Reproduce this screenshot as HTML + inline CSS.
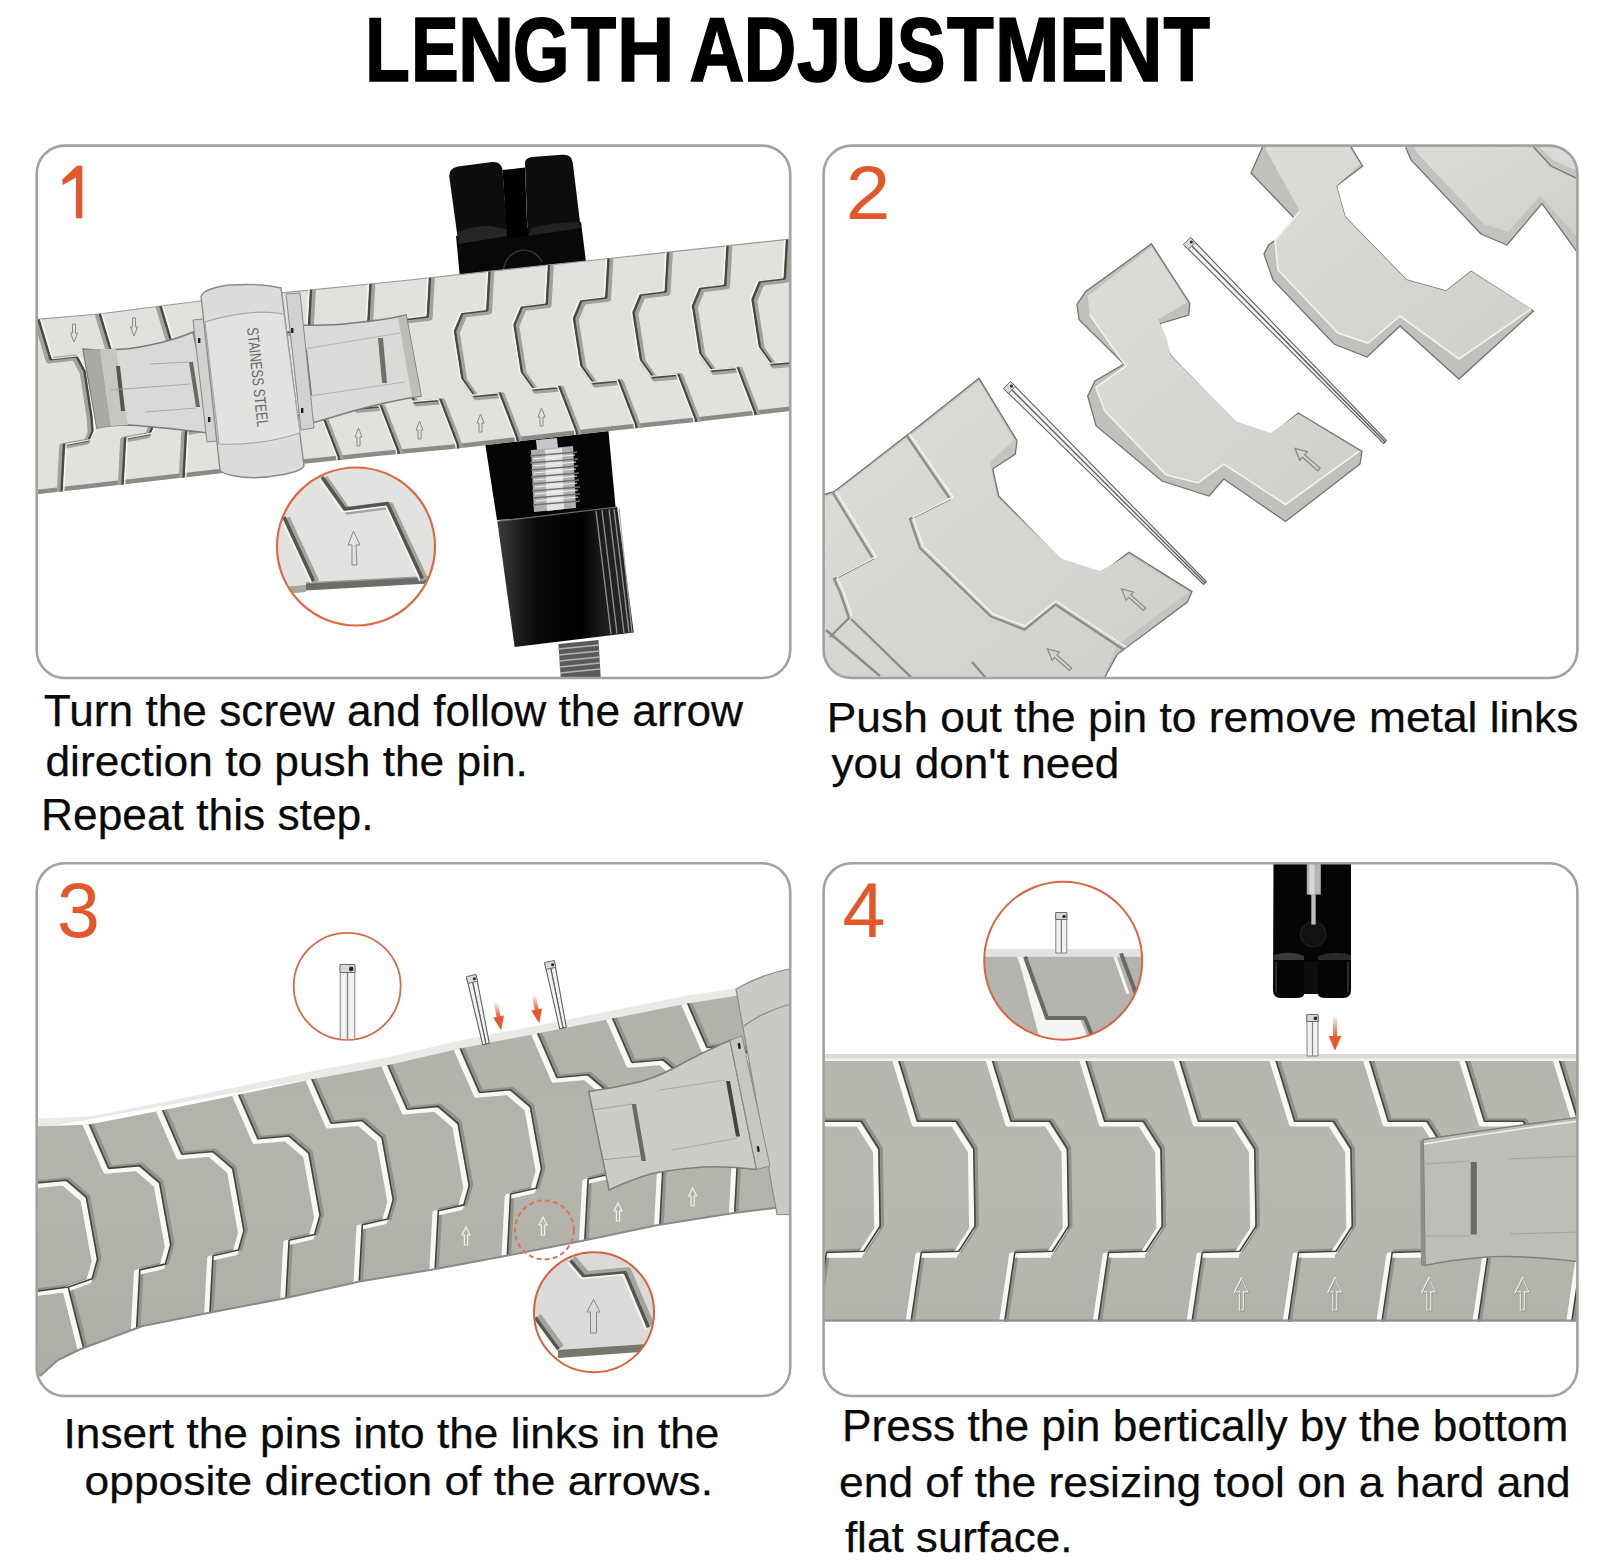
<!DOCTYPE html>
<html><head><meta charset="utf-8">
<style>
html,body{margin:0;padding:0;background:#fff;}
body{width:1598px;height:1562px;overflow:hidden;position:relative;}
svg{position:absolute;left:0;top:0;}
text{font-family:"Liberation Sans",sans-serif;}
</style></head><body>
<svg width="1598" height="1562" viewBox="0 0 1598 1562">
<defs>
<clipPath id="c1"><rect x="37" y="146" width="753" height="532" rx="28"/></clipPath>
<clipPath id="c2"><rect x="824" y="146" width="753" height="532" rx="28"/></clipPath>
<clipPath id="c3"><rect x="37" y="864" width="753" height="532" rx="28"/></clipPath>
<clipPath id="c4"><rect x="824" y="864" width="753" height="532" rx="28"/></clipPath>
</defs>
<!-- title -->
<g font-size="91" font-weight="bold" fill="#000" stroke="#000" stroke-width="1.6"><text y="80.8" lengthAdjust="spacingAndGlyphs" x="365.1" textLength="44.9">L</text><text y="80.8" lengthAdjust="spacingAndGlyphs" x="411.0" textLength="47.8">E</text><text y="80.8" lengthAdjust="spacingAndGlyphs" x="457.9" textLength="56.2">N</text><text y="80.8" lengthAdjust="spacingAndGlyphs" x="512.8" textLength="56.8">G</text><text y="80.8" lengthAdjust="spacingAndGlyphs" x="571.0" textLength="45.1">T</text><text y="80.8" lengthAdjust="spacingAndGlyphs" x="617.0" textLength="57.4">H</text><text y="80.8" lengthAdjust="spacingAndGlyphs" x="689.4" textLength="54.8">A</text><text y="80.8" lengthAdjust="spacingAndGlyphs" x="743.7" textLength="52.5">D</text><text y="80.8" lengthAdjust="spacingAndGlyphs" x="797.0" textLength="44.4">J</text><text y="80.8" lengthAdjust="spacingAndGlyphs" x="840.8" textLength="55.6">U</text><text y="80.8" lengthAdjust="spacingAndGlyphs" x="896.7" textLength="48.8">S</text><text y="80.8" lengthAdjust="spacingAndGlyphs" x="947.1" textLength="46.8">T</text><text y="80.8" lengthAdjust="spacingAndGlyphs" x="995.1" textLength="64.4">M</text><text y="80.8" lengthAdjust="spacingAndGlyphs" x="1059.5" textLength="47.7">E</text><text y="80.8" lengthAdjust="spacingAndGlyphs" x="1105.8" textLength="56.8">N</text><text y="80.8" lengthAdjust="spacingAndGlyphs" x="1163.5" textLength="46.5">T</text></g>

<!-- PANEL1 -->
<!--P1S--><g id="p1" clip-path="url(#c1)">
 <!-- tool top (behind band) -->
 <path d="M456,236 L581,222 L586,262 L590,300 L462,300 Z" fill="#080808"/>
 <path d="M449.2,176 Q449,168 458,166.5 L492,162 Q501,161 502.5,170 L507,230 L458.4,243 Z" fill="#0e0e0e"/>
 <path d="M525,163 Q525,158 532,157 L562,154.7 Q572,154 572.8,163 L580.6,227 L527.5,233 Z" fill="#0e0e0e"/>
 <path d="M502.5,170 L525,167.5 L527.5,236 L507,238 Z" fill="#000"/>
 <path d="M458,232 Q470,226 490,226 L506,229 L507,236 L459,244 Z" fill="#262626"/>
 <path d="M531,228 Q555,222 578,222 L581,228 L528,236 Z" fill="#222"/>
 <path d="M503,274 Q504,254 522,250 Q536,250 542,262" fill="none" stroke="#333" stroke-width="1.6"/>
 <!-- tool bottom -->
 <path d="M484,436 L608,426 L616,512 L497,520 Z" fill="#050505"/>
 <defs>
  <linearGradient id="kn" x1="0" y1="0" x2="1" y2="0">
   <stop offset="0" stop-color="#3c3c3c"/><stop offset="0.28" stop-color="#0a0a0a"/><stop offset="0.62" stop-color="#000"/><stop offset="0.75" stop-color="#1a1a1a"/><stop offset="1" stop-color="#2c2c2c"/>
  </linearGradient>
 </defs>
 <path d="M497.3,521.3 L617.1,507 L633.8,632.5 L514.6,647 Z" fill="url(#kn)"/>
 <path d="M497.3,521.3 L617.1,507" stroke="#6a6a6a" stroke-width="1.2"/>
 <g stroke="#a8a8a8" stroke-width="1.3" fill="none" opacity="0.85">
  <path d="M596,511 L611,634"/><path d="M602,510 L617,633.5"/><path d="M609,509.5 L624,633"/><path d="M614,509 L629,632.5"/><path d="M619,508.5 L632,632.5"/>
 </g>
 <!-- screw top -->
 <path d="M536,440 L557,438 L558,448 L537,450 Z" fill="#c8c8c8"/>
 <path d="M531,450 L573,446 L576,508 L534,512 Z" fill="#b0b0b0"/>
 <path d="M545,450 L562,448 L564,509 L547,511 Z" fill="#e4e4e4"/>
 <g stroke="#707070" stroke-width="1.5">
  <path d="M530,456 L577,452"/><path d="M530,463 L578,459"/><path d="M531,470 L578,466"/><path d="M531,477 L579,473"/><path d="M532,484 L579,480"/><path d="M532,491 L580,487"/><path d="M533,498 L580,494"/><path d="M533,505 L580,501"/>
 </g>
 <g stroke="#f0f0f0" stroke-width="1.2">
  <path d="M533,459 L575,455"/><path d="M533,466 L576,462"/><path d="M534,473 L576,469"/><path d="M534,480 L577,476"/><path d="M535,487 L577,483"/><path d="M535,494 L578,490"/><path d="M536,501 L578,497"/>
 </g>
 <!-- screw bottom -->
 <path d="M558.4,644 L598.5,640 L601,682 L561,682 Z" fill="#5a5a5a"/>
 <g stroke="#b4b4b4" stroke-width="1.4">
  <path d="M558,649 L599,645"/><path d="M558.5,655 L599.5,651"/><path d="M559,661 L600,657"/><path d="M559.5,667 L600,663"/><path d="M560,673 L600.5,669"/>
 </g>

 <!-- band base -->
 <defs>
  <path id="b1" d="M30,320 L99,314 L161,306 L200,301 L400,281 L609,258.5 L795,238.6 L795,410.5 L695,421.9 L600,431.9 L455,448.7 L380,455.8 L306,463.5 L30,495 Z"/>
  <clipPath id="b1c"><use href="#b1"/></clipPath>
  <path id="cb" d="M0,-6 L0,0 L-2.2,39 L-27,42 L-34.5,60 L-27,108 L-15,124.7 L10.6,122.4 L27.8,167 L29,176"/>
  <path id="lb" d="M-1,-6 L0,0 L12,40 L38,37 L46,52 L53,98 L54,112 L50,121 L25.5,125.6 L23,172 L23,180"/>
 </defs>
 <use href="#b1" fill="#e1e1de"/>
 <path d="M30,495 L306,463.5 L380,455.8 L455,448.7 L600,431.9 L695,421.9 L795,410.5 L795,406 L695,417.4 L600,427.4 L455,444.2 L380,451.3 L306,459 L30,490.5 Z" fill="#8c8c86"/>
 <path d="M30,320 L99,314 L161,306 L200,301 L400,281 L609,258.5 L795,238.6" fill="none" stroke="#9a9a96" stroke-width="1.2"/>
 <g clip-path="url(#b1c)">
<g fill="none" stroke="#a2a29c" stroke-width="6" stroke-linejoin="round" opacity="1"><use href="#cb" x="312.8" y="291.6"/><use href="#cb" x="372.3" y="285.2"/><use href="#cb" x="431.8" y="278.8"/><use href="#cb" x="491.3" y="272.5"/><use href="#cb" x="550.8" y="266.1"/><use href="#cb" x="610.3" y="259.7"/><use href="#cb" x="669.8" y="253.7"/><use href="#cb" x="729.3" y="247.2"/><use href="#cb" x="788.8" y="240.7"/></g>
<g fill="none" stroke="#4a4a44" stroke-width="2.4" stroke-linejoin="round" opacity="1"><use href="#cb" x="311.0" y="290.4"/><use href="#cb" x="370.5" y="284.0"/><use href="#cb" x="430.0" y="277.6"/><use href="#cb" x="489.5" y="271.3"/><use href="#cb" x="549.0" y="264.9"/><use href="#cb" x="608.5" y="258.5"/><use href="#cb" x="668.0" y="252.5"/><use href="#cb" x="727.5" y="246.0"/><use href="#cb" x="787.0" y="239.5"/></g>
<g fill="none" stroke="#fbfbf9" stroke-width="1.4" stroke-linejoin="round" opacity="0.9"><use href="#cb" x="308.8" y="289.6"/><use href="#cb" x="368.3" y="283.2"/><use href="#cb" x="427.8" y="276.8"/><use href="#cb" x="487.3" y="270.5"/><use href="#cb" x="546.8" y="264.1"/><use href="#cb" x="606.3" y="257.7"/><use href="#cb" x="665.8" y="251.7"/><use href="#cb" x="725.3" y="245.2"/><use href="#cb" x="784.8" y="238.7"/></g>
<g fill="none" stroke="#a2a29c" stroke-width="6" stroke-linejoin="round" opacity="1"><use href="#lb" x="36.7" y="320.6"/><use href="#lb" x="97.7" y="314.2"/><use href="#lb" x="158.7" y="307.2"/><use href="#lb" x="219.7" y="300.7"/></g>
<g fill="none" stroke="#4a4a44" stroke-width="2.4" stroke-linejoin="round" opacity="1"><use href="#lb" x="38.5" y="319.4"/><use href="#lb" x="99.5" y="313.0"/><use href="#lb" x="160.5" y="306.0"/><use href="#lb" x="221.5" y="299.5"/></g>
<g fill="none" stroke="#fbfbf9" stroke-width="1.4" stroke-linejoin="round" opacity="0.9"><use href="#lb" x="40.7" y="318.6"/><use href="#lb" x="101.7" y="312.2"/><use href="#lb" x="162.7" y="305.2"/><use href="#lb" x="223.7" y="298.7"/></g>
 </g>
 <!-- small arrows -->
 <g fill="none" stroke="#8a8a86" stroke-width="1">
  <path id="ua" d="M-1.5,9 L-1.5,0 L-3.5,0 L0,-9 L3.5,0 L1.5,0 L1.5,9 Z" transform="translate(358.5,437)"/>
  <use href="#ua" x="61" y="-7"/>
  <use href="#ua" x="122" y="-14"/>
  <use href="#ua" x="183" y="-20"/>
  <path d="M-1.5,-9 L-1.5,0 L-3.5,0 L0,9 L3.5,0 L1.5,0 L1.5,-9 Z" transform="translate(74,333)"/>
  <path d="M-1.5,-9 L-1.5,0 L-3.5,0 L0,9 L3.5,0 L1.5,0 L1.5,-9 Z" transform="translate(134,327)"/>
 </g>

 <!-- clasp: left wing -->
 <path d="M83,349 Q120,352 150,345 Q175,340 193,332 L216,434 Q170,428 130,425 Q110,425 97,428 Z" fill="#d9d9d7" stroke="#7c7c78" stroke-width="1.6"/>
 <path d="M84,350 L97,428 L111,426 L100,349 Z" fill="#a9a9a5"/>
 <path d="M100,349 L111,426 L128,425 L116,349 Z" fill="#c6c6c2"/>
 <path d="M116,366 L120,366 L125,411 L121,411 Z" fill="#55554f"/>
 <path d="M189,362 L193,362 L200,407 L196,407 Z" fill="#6a6a64"/>
 <path d="M110,390 L190,384 M145,412 L196,408 M150,364 L190,362" stroke="#a0a09c" stroke-width="0.8"/>
 <!-- clasp: right wing -->
 <path d="M297,325 Q330,326 353,323 Q385,320 406,315 L421,396 Q385,402 353,411 Q330,418 312,423 Z" fill="#dadad8" stroke="#7c7c78" stroke-width="1.6"/>
 <path d="M406,315 L421,396 L412,397 L398,318 Z" fill="#bdbdb9"/>
 <path d="M378,338 L383,338 L387,383 L382,383 Z" fill="#707069"/>
 <path d="M302,350 L307,350 L312,395 L307,395 Z" fill="#6a6a64"/>
 <path d="M304,349 L400,333 M310,396 L405,382" stroke="#a8a8a4" stroke-width="0.8" fill="none"/>
 <!-- hinge plates -->
 <path d="M193,320 L212,318 L226,440 L207,442 Z" fill="#d2d2d0" stroke="#8a8a86" stroke-width="1"/>
 <path d="M286,294 L300,293 L314,428 L301,430 Z" fill="#d2d2d0" stroke="#8a8a86" stroke-width="1"/>
 <rect x="198" y="338" width="2.4" height="5" fill="#222"/>
 <rect x="208" y="417" width="2.4" height="5" fill="#222"/>
 <rect x="291" y="328" width="2.4" height="5" fill="#222"/>
 <rect x="301" y="408" width="2.4" height="5" fill="#222"/>
 <!-- clasp cover -->
 <path d="M201,296 Q205,288 230,285 Q260,283 281,288 L304,466 Q300,472 280,475 Q255,480 235,476 Q222,474 220,470 Z" fill="#dcdcda" stroke="#8c8c88" stroke-width="1.4"/>
 <path d="M205,322 Q250,308 284,314 L300,433 Q260,446 219,444 Z" fill="#e2e2e0" stroke="#a6a6a2" stroke-width="1.2"/>
 <text transform="translate(247,328) rotate(84)" font-size="16" fill="#6a6a66" textLength="100" lengthAdjust="spacingAndGlyphs">STAINESS STEEL</text>

 <!-- magnifier -->
 <clipPath id="m1c"><circle cx="356" cy="546.5" r="79"/></clipPath>
 <g clip-path="url(#m1c)">
  <rect x="270" y="460" width="180" height="180" fill="#fff"/>
  <path d="M270,460 L450,460 L450,580 L411,580 L306,586 L270,590 Z" fill="#e2e2e0"/>
  <path d="M270,588 L306,585 L306,592 L270,595 Z" fill="#a6a6a0"/>
  <path d="M306,583 L411,577.5 L450,575.5 L450,582.5 L411,584.5 L306,590.5 Z" fill="#6c6c66"/>
  <path d="M306,583 L411,577.5 L450,575.5" stroke="#9a9a94" stroke-width="1.5" fill="none"/>
  <g fill="none" stroke-linejoin="round">
   <path d="M286.5,518 L316,582" stroke="#a4a49e" stroke-width="7"/>
   <path d="M324.5,478 L347.5,511 L390,505.5 L425,580" stroke="#a4a49e" stroke-width="7"/>
   <path d="M284,517 L313.5,581" stroke="#55554f" stroke-width="3.4"/>
   <path d="M322,477 L345,509 L387.5,503.5 L422.4,578.6" stroke="#55554f" stroke-width="3.4"/>
   <path d="M281.5,519 L311,583" stroke="#f6f6f4" stroke-width="1.6"/>
   <path d="M319.5,479 L343,512 L386,506.5 L420,581" stroke="#f6f6f4" stroke-width="1.6"/>
  </g>
  <path d="M352,565 L352,545 L348,545 L353.5,531 L360,545 L356,545 L357,565 Z" fill="none" stroke="#8a8a86" stroke-width="1"/>
 </g>
 <circle cx="356" cy="546.5" r="79" fill="none" stroke="#dc6a45" stroke-width="2.2"/>
</g>
<!--P1E-->
<!--P2S--><g id="p2" clip-path="url(#c2)">
 <defs>
  <linearGradient id="g2" x1="0" y1="0" x2="1" y2="1">
   <stop offset="0" stop-color="#dcdcd9"/><stop offset="1" stop-color="#cfcfcb"/>
  </linearGradient>
 </defs>
 <!-- piece D (top right) -->
 <path d="M1406,138 L1406,148 L1411,160 L1481,234 L1507,245 L1542,203.5 L1580,256 L1590,256 L1590,138 Z" fill="#c2c2be" stroke="#74746f" stroke-width="1.3"/>
 <path d="M1412,138 L1416,152 L1484,224 L1508,232 L1540,196 L1580,240 L1590,240 L1590,138 Z" fill="url(#g2)"/>
 <path d="M1527,140 L1551,166 L1580,180 L1580,140 Z" fill="#c4c4c0" stroke="#74746f" stroke-width="1.3"/>
 <path d="M1532,140 L1553,160 L1580,172 L1580,140 Z" fill="#dadad7"/>
 <!-- piece C -->
 <path d="M1262,138 L1262,148 L1251,173 L1299,223 L1268.5,245 L1264,254 L1273,280 L1334,344 L1367,357 L1400,326 L1459,379 L1533.5,311 L1471,271.4 L1446,291 L1406.5,280 L1345,216.7 L1336.4,186 L1362.6,166 L1351.7,148 L1351.7,138 Z" fill="#c0c0bc" stroke="#74746f" stroke-width="1.3"/>
 <path d="M1266,138 L1266,150 L1300,211 L1275,240 L1278,270 L1338,333 L1368,343 L1400,316 L1459,359 L1531,309 L1471,271.4 L1446,291 L1406.5,280 L1345,216.7 L1336.4,186 L1360,164 L1350,148 L1350,138 Z" fill="url(#g2)"/>
 <path d="M1300,211 L1275,240 L1278,270 L1338,333 L1368,343 L1400,316 L1459,359 L1531,309" fill="none" stroke="#f2f2f0" stroke-width="1.6"/>
 <!-- pin 2 -->
<path d="M1011.4,382.6 L1008.1,385.9 L1205.0,583.0 L1206.4,581.6 Z" fill="#f2f2f0" stroke="#5e5e5c" stroke-width="1.1"/><path d="M1007.9,386.1 L1004.6,389.4 L1203.6,584.4 L1205.0,583.0 Z" fill="#f2f2f0" stroke="#5e5e5c" stroke-width="1.1"/><path d="M1010.5,381.4 L1003.4,388.5 L1008.4,393.4 L1015.4,386.4 Z" fill="#d8d8d6" stroke="#6a6a68" stroke-width="1"/><circle cx="1011.4" cy="385.9" r="1.5" fill="#262626"/>
<path d="M1191.5,238.6 L1188.1,241.9 L1385.0,442.0 L1386.4,440.6 Z" fill="#f2f2f0" stroke="#5e5e5c" stroke-width="1.1"/><path d="M1187.9,242.1 L1184.5,245.4 L1383.6,443.4 L1385.0,442.0 Z" fill="#f2f2f0" stroke="#5e5e5c" stroke-width="1.1"/><path d="M1190.5,237.4 L1183.4,244.4 L1188.3,249.4 L1195.4,242.4 Z" fill="#d8d8d6" stroke="#6a6a68" stroke-width="1"/><circle cx="1191.4" cy="241.9" r="1.5" fill="#262626"/>
 <!-- piece B -->
 <path d="M1151.5,243.8 L1189.8,303.4 L1188.7,315 L1160,323.6 L1162,334 L1170.6,355.5 L1236.6,423.6 L1270.6,435.3 L1298.3,413 L1362,451.3 L1360,464 L1285.5,521.5 L1223.8,479 L1209,496 L1162,481 L1096,425.7 L1087.7,396 L1095,381 L1124,364 L1079,319.4 L1077,304.5 L1085.5,291.7 Z" fill="#c0c0bc" stroke="#74746f" stroke-width="1.3"/>
 <path d="M1151.5,247 L1187.7,302.3 L1158,319.4 L1166,336.4 L1170.6,355.5 L1236.6,421.5 L1270.6,433 L1298.3,414 L1359,451.3 L1285.5,504.5 L1223.8,464 L1198,483 L1166,474.7 L1104.7,410.9 L1096,387.4 L1126,366 L1089.8,315 L1087.7,296 Z" fill="url(#g2)"/>
 <path d="M1089.8,315 L1126,366 L1096,387.4 L1104.7,410.9 L1166,474.7 L1198,483 L1223.8,464 L1285.5,504.5 L1359,451.3" fill="none" stroke="#f2f2f0" stroke-width="1.6"/>
 <path id="oarr" d="M-1.5,14 L-1.5,-4 L-5,-4 L0,-14 L5,-4 L1.5,-4 L1.5,14 Z" fill="none" stroke="#8a8a86" stroke-width="1.1" transform="translate(1307,459) rotate(-48.6) scale(1.15)"/>
 <!-- group A -->
 <path d="M815,497 L834,491.7 L904,437.6 L910,433 L979,378.3 L1017,440.6 L1015.3,454 L992.7,469 L998.7,496 L1062.6,561.8 L1100.6,573.7 L1129,552.3 L1192,591.6 L1187.4,602 L1117,654.6 L1098,690 L815,690 Z" fill="#c4c4c0" stroke="#74746f" stroke-width="1.3"/>
 <path d="M815,500 L834,494 L904,440 L910,436 L979,381 L1014,440 L990,462 L997,497 L1062,559 L1100,571 L1129,555 L1189,592 L1117,645 L1098,690 L815,690 Z" fill="url(#g2)"/>
 <g fill="none" stroke="#8c8c88" stroke-width="2.4" stroke-linejoin="round">
  <path d="M907,436 L950,499 L910,519 L920,548 L991,616.5 L1024.5,629.6 L1055.4,604.6 L1124,650"/>
  <path d="M833,493 L873,558.7 L834,579 L840,592 L849,618 L830,637"/>
  <path d="M851,619 L916,682"/>
  <path d="M826,630 L880,676 M972,662 L986,678"/>
 </g>
 <g fill="none" stroke="#f4f4f2" stroke-width="1.4" stroke-linejoin="round">
  <path d="M909.5,434 L953,497 L913,517 L923,546 L993,614 L1025,626 L1056,601 L1126,647"/>
  <path d="M836,491 L876,556.7 L837,577 L843,590 L852,616"/>
 </g>
 <path d="M-1.5,14 L-1.5,-4 L-5,-4 L0,-14 L5,-4 L1.5,-4 L1.5,14 Z" fill="none" stroke="#8a8a86" stroke-width="1.1" transform="translate(1133,599) rotate(-48.6) scale(1.1)"/>
 <path d="M-1.5,14 L-1.5,-4 L-5,-4 L0,-14 L5,-4 L1.5,-4 L1.5,14 Z" fill="none" stroke="#8a8a86" stroke-width="1.1" transform="translate(1059,659) rotate(-48.6) scale(1.1)"/>
</g>
<!--P2E-->
<!--P3S--><g id="p3" clip-path="url(#c3)">
 <defs>
  <path id="b3" d="M20,1127 L89.2,1124.5 L162.4,1110.3 L238.5,1094.8 L311.7,1079.3 L387.7,1065.2 L460,1048.5 L537.5,1033.5 L612.5,1018.5 L687.5,1003.5 L735,996 L800,984 L800,1205 L734,1213 L658,1225 L581.5,1241 L500,1257 L430,1270 L362,1281 L286,1298 L213,1312 L142.7,1326 L80.7,1349 L58,1360 L40,1376 L20,1386 Z"/>
  <clipPath id="b3c"><use href="#b3"/></clipPath>
  <path id="cb3" d="M-4,-10 L0,0 L19.6,45 L50.6,42.2 L70.4,59.2 L81.6,121.1 L76.1,140.7 L50.6,146.5 L47.6,202.7 L47,225"/>
  <linearGradient id="g3" x1="0" y1="0" x2="0" y2="1">
   <stop offset="0" stop-color="#b1b1aa"/><stop offset="0.5" stop-color="#b4b4ad"/><stop offset="1" stop-color="#adada6"/>
  </linearGradient>
 </defs>
 <!-- top strip -->
 <path d="M20,1119 L89.2,1116.5 L162.4,1102.3 L238.5,1086.8 L311.7,1071.3 L387.7,1057.2 L460,1040.5 L537.5,1025.5 L612.5,1010.5 L687.5,995.5 L735,988.5 L800,976.5 L800,990 L20,1132 Z" fill="#e9e9e6"/>
 <use href="#b3" fill="url(#g3)"/>
 <g clip-path="url(#b3c)">
<defs><path id="cb3x" d="M12,1128 L16,1138 L35.6,1183 L66.6,1180.2 L86.4,1197.2 L97.6,1259.1 L92.1,1278.7 L68.3,1287 L83.2,1345.7 L86,1360 M30,1292 L68.3,1287"/></defs><g fill="none" stroke="#92928c" stroke-width="3.8" stroke-linejoin="round" opacity="1"><use href="#cb3" x="91.2" y="1122.3"/><use href="#cb3" x="164.4" y="1108.2"/><use href="#cb3" x="240.5" y="1092.7"/><use href="#cb3" x="313.7" y="1077.2"/><use href="#cb3" x="389.7" y="1063.1"/><use href="#cb3" x="462.0" y="1046.4"/><use href="#cb3" x="539.5" y="1031.4"/><use href="#cb3" x="614.5" y="1016.4"/><use href="#cb3" x="689.5" y="1001.4"/></g>
<g fill="none" stroke="#f8f8f6" stroke-width="5.4" stroke-linejoin="round" opacity="1"><use href="#cb3" x="86.0" y="1126.0"/><use href="#cb3" x="159.2" y="1111.9"/><use href="#cb3" x="235.3" y="1096.4"/><use href="#cb3" x="308.5" y="1080.9"/><use href="#cb3" x="384.5" y="1066.8"/><use href="#cb3" x="456.8" y="1050.1"/><use href="#cb3" x="534.3" y="1035.1"/><use href="#cb3" x="609.3" y="1020.1"/><use href="#cb3" x="684.3" y="1005.1"/></g>
<g fill="none" stroke="#45453f" stroke-width="1.6" stroke-linejoin="round" opacity="1"><use href="#cb3" x="89.2" y="1123.4"/><use href="#cb3" x="162.4" y="1109.3"/><use href="#cb3" x="238.5" y="1093.8"/><use href="#cb3" x="311.7" y="1078.3"/><use href="#cb3" x="387.7" y="1064.2"/><use href="#cb3" x="460.0" y="1047.5"/><use href="#cb3" x="537.5" y="1032.5"/><use href="#cb3" x="612.5" y="1017.5"/><use href="#cb3" x="687.5" y="1002.5"/></g>
<g fill="none" stroke="#92928c" stroke-width="3.8" stroke-linejoin="round" opacity="1"><use href="#cb3x" x="2.0" y="-1.1"/></g>
<g fill="none" stroke="#f8f8f6" stroke-width="5.4" stroke-linejoin="round" opacity="1"><use href="#cb3x" x="-3.2" y="2.6"/></g>
<g fill="none" stroke="#45453f" stroke-width="1.6" stroke-linejoin="round" opacity="1"><use href="#cb3x" x="0.0" y="0.0"/></g>
 </g>
 <path d="M40,1376 L58,1360 L80.7,1349 L142.7,1326 L213,1312 L286,1298 L362,1281 L430,1270 L500,1257 L581.5,1241 L658,1225 L734,1213 L800,1205" fill="none" stroke="#8a8a86" stroke-width="2"/>
 <!-- small arrows -->
 <g fill="none" stroke="#efefed" stroke-width="1.2">
  <path id="ua3" d="M-1.6,9 L-1.6,-1 L-4,-1 L0,-9 L4,-1 L1.6,-1 L1.6,9 Z" transform="translate(466,1236)"/>
  <use href="#ua3" x="77" y="-10"/>
  <use href="#ua3" x="152" y="-24"/>
  <use href="#ua3" x="226.6" y="-39"/>
 </g>
 <!-- clasp cover -->
 <path d="M736,989 Q760,975 789,969 L800,968 L800,1215 L777,1214.4 Z" fill="#c9c9c5" stroke="#8c8c88" stroke-width="1.2"/>
 <path d="M744,1026 Q765,1010 795,1003" fill="none" stroke="#8c8c88" stroke-width="1.2"/>
 <!-- clasp wing -->
 <path d="M588.7,1091.5 Q615,1088 642,1081.3 Q665,1074 683,1063 Q708,1050 730,1040.3 L756.6,1169.4 Q730,1166 703,1167 Q675,1169 652,1173.5 Q630,1180 609,1190 Z" fill="#cbcbc7" stroke="#7e7e7a" stroke-width="1.5"/>
 <path d="M730,1040.3 L756.6,1169.4 L770,1166 L742,1036 Z" fill="#c6c6c2" stroke="#8a8a86" stroke-width="1"/>
 <path d="M592,1110 L632,1104 M600,1160 L640,1156" stroke="#a0a09c" stroke-width="1"/>
 <path d="M631.7,1104 L636,1104 L646,1161 L641.5,1161 Z" fill="#6a6a64"/>
 <path d="M726,1081 L730,1081 L740,1136.6 L736,1136.6 Z" fill="#444440"/>
 <path d="M660,1090 L725,1080 M672,1150 L738,1138" stroke="#a6a6a2" stroke-width="0.9"/>
 <rect x="738" y="1043" width="2.5" height="6" rx="1" fill="#222" transform="rotate(-10 739 1046)"/>
 <rect x="757" y="1146" width="2.5" height="6" rx="1" fill="#222" transform="rotate(-10 758 1149)"/>
 <!-- pins -->
<path d="M476.3,976.0 L471.6,977.0 L486.1,1044.0 L489.3,1043.3 Z" fill="#f2f2f0" stroke="#5e5e5c" stroke-width="1.1"/><path d="M471.4,977.0 L466.7,978.0 L482.7,1044.7 L485.9,1044.0 Z" fill="#f2f2f0" stroke="#5e5e5c" stroke-width="1.1"/><path d="M476.1,974.5 L466.3,976.6 L467.8,983.4 L477.6,981.3 Z" fill="#d8d8d6" stroke="#6a6a68" stroke-width="1"/><circle cx="474.4" cy="978.8" r="1.5" fill="#262626"/>
<path d="M554.5,962.0 L549.8,963.0 L563.1,1028.0 L566.3,1027.3 Z" fill="#f2f2f0" stroke="#5e5e5c" stroke-width="1.1"/><path d="M549.6,963.0 L544.9,964.0 L559.7,1028.7 L562.9,1028.0 Z" fill="#f2f2f0" stroke="#5e5e5c" stroke-width="1.1"/><path d="M554.3,960.5 L544.5,962.5 L545.9,969.4 L555.7,967.4 Z" fill="#d8d8d6" stroke="#6a6a68" stroke-width="1"/><circle cx="552.6" cy="964.8" r="1.5" fill="#262626"/>
 <!-- orange arrows -->
 <defs><linearGradient id="oa3" x1="0" y1="0" x2="0" y2="1"><stop offset="0" stop-color="#e65a2a" stop-opacity="0.1"/><stop offset="0.55" stop-color="#e65a2a"/></linearGradient></defs>
 <path d="M-2,-14 L2,-14 L2,0 L5.5,0 L0,14 L-5.5,0 L-2,0 Z" fill="url(#oa3)" transform="translate(498.5,1016.5) rotate(-11)"/>
 <path d="M-2,-14 L2,-14 L2,0 L5.5,0 L0,14 L-5.5,0 L-2,0 Z" fill="url(#oa3)" transform="translate(536.6,1009.5) rotate(-11)"/>
 <!-- dashed circle -->
 <circle cx="544.4" cy="1230" r="29.5" fill="none" stroke="#de7552" stroke-width="2" stroke-dasharray="5 3.2"/>
 <!-- magnifier top -->
 <circle cx="347.2" cy="986.3" r="53.5" fill="#fff" stroke="#d56b49" stroke-width="1.8"/>
 <clipPath id="m3a"><circle cx="347.2" cy="986.3" r="53"/></clipPath>
 <g clip-path="url(#m3a)">
<path d="M354.8,966.0 L347.7,966.0 L347.7,1045.0 L354.8,1045.0 Z" fill="#f2f2f0" stroke="#767674" stroke-width="0.9"/><path d="M347.3,966.0 L340.2,966.0 L340.2,1045.0 L347.3,1045.0 Z" fill="#f2f2f0" stroke="#767674" stroke-width="0.9"/><path d="M355.0,964.5 L340.0,964.5 L340.0,972.5 L355.0,972.5 Z" fill="#d8d8d6" stroke="#6a6a68" stroke-width="1"/><circle cx="351.2" cy="968.9" r="2.3" fill="#262626"/>
 </g>
 <!-- magnifier bottom -->
 <clipPath id="m3b"><circle cx="594" cy="1312.2" r="60"/></clipPath>
 <g clip-path="url(#m3b)">
  <rect x="530" y="1250" width="130" height="130" fill="#fff"/>
  <path d="M530,1250 L660,1250 L660,1343 L640,1346 L558,1351 L530,1320 Z" fill="#dadad8"/>
  <path d="M558,1350 L640,1344.5 L660,1343 L660,1349 L640,1352 L558,1358 Z" fill="#76766f"/>
  <g fill="none" stroke-linejoin="round">
   <path d="M538,1316 L561,1347.5" stroke="#a4a49e" stroke-width="7"/>
   <path d="M573,1258.5 L586.5,1274.4 L627.8,1270.7 L651,1325.4" stroke="#a4a49e" stroke-width="7"/>
   <path d="M535.3,1317.7 L558.4,1349.3" stroke="#55554f" stroke-width="3.4"/>
   <path d="M570.5,1260.5 L584,1276.4 L625.3,1272.7 L648.4,1327.4" stroke="#55554f" stroke-width="3.4"/>
   <path d="M532.8,1319.5 L555.9,1351" stroke="#f6f6f4" stroke-width="1.8"/>
   <path d="M568,1262.5 L581.5,1278.4 L622.8,1274.7 L645.9,1329.4" stroke="#f6f6f4" stroke-width="1.8"/>
  </g>
  <path d="M590.5,1333 L590.5,1312 L587,1312 L593.5,1299.5 L600,1312 L596.5,1312 L596.5,1333 Z" fill="none" stroke="#8a8a86" stroke-width="1"/>
 </g>
 <circle cx="594" cy="1312.2" r="60" fill="none" stroke="#d9603a" stroke-width="2"/>
</g>
<!--P3E-->
<!--P4S--><g id="p4" clip-path="url(#c4)">
 <defs>
  <clipPath id="b4c"><rect x="815" y="1061" width="780" height="260.5"/></clipPath>
  <path id="cb4" d="M-3,-10 L0,0 L18.75,61.25 L57.5,61.25 L75,88.75 L76.25,166.25 L60,191.25 L22.5,192.5 L12.5,260 L11,275"/>
  <linearGradient id="g4" x1="0" y1="0" x2="0" y2="1">
   <stop offset="0" stop-color="#b5b5ae"/><stop offset="0.45" stop-color="#b9b9b2"/><stop offset="1" stop-color="#b2b2ab"/>
  </linearGradient>
 </defs>
 <!-- tool -->
 <path d="M1273.5,860 L1351,860 L1351,990 Q1351,998 1343,998 L1326,998 Q1318,998 1318,994 L1304,994 Q1304,998 1296,998 L1281,998 Q1273,998 1273,990 Z" fill="#050505"/>
 <path d="M1304,962 L1318,962 L1318,994 L1304,994 Z" fill="#0e0e0e"/>
 <path d="M1274,955 Q1290,950 1304,956 L1304,960 L1274,960 Z" fill="#3a3a3a"/>
 <path d="M1318,956 Q1335,950 1351,955 L1351,960 L1318,960 Z" fill="#2a2a2a"/>
 <path d="M1276,962 L1276,992" stroke="#2c2c2c" stroke-width="2"/>
 <path d="M1348,962 L1348,992" stroke="#2c2c2c" stroke-width="2"/>
 <circle cx="1313.2" cy="934.2" r="12.5" fill="#111" stroke="#1e1e1e" stroke-width="1.5"/>
 <rect x="1306.8" y="860" width="14" height="34.6" fill="#b4b4b4"/>
 <rect x="1309.5" y="860" width="5" height="34.6" fill="#d8d8d8"/>
 <rect x="1311.3" y="894.6" width="4.4" height="30" fill="#bdbdbd"/>
 <!-- top strip -->
 <rect x="815" y="1054" width="780" height="5" fill="#d9d9d5"/>
 <rect x="815" y="1058.5" width="780" height="3" fill="#f3f3f1"/>
 <!-- band -->
 <rect x="815" y="1061" width="780" height="260.5" fill="url(#g4)"/>
 <g clip-path="url(#b4c)">
<g fill="none" stroke="#92928c" stroke-width="3.8" stroke-linejoin="round" opacity="1"><use href="#cb4" x="805.9" y="1058.9"/><use href="#cb4" x="900.8" y="1058.9"/><use href="#cb4" x="994.4" y="1058.9"/><use href="#cb4" x="1088.0" y="1058.9"/><use href="#cb4" x="1181.8" y="1058.9"/><use href="#cb4" x="1278.0" y="1058.9"/><use href="#cb4" x="1371.7" y="1058.9"/><use href="#cb4" x="1467.8" y="1058.9"/><use href="#cb4" x="1561.5" y="1058.9"/></g>
<g fill="none" stroke="#f8f8f6" stroke-width="5.4" stroke-linejoin="round" opacity="1"><use href="#cb4" x="800.7" y="1062.6"/><use href="#cb4" x="895.6" y="1062.6"/><use href="#cb4" x="989.2" y="1062.6"/><use href="#cb4" x="1082.8" y="1062.6"/><use href="#cb4" x="1176.6" y="1062.6"/><use href="#cb4" x="1272.8" y="1062.6"/><use href="#cb4" x="1366.5" y="1062.6"/><use href="#cb4" x="1462.6" y="1062.6"/><use href="#cb4" x="1556.3" y="1062.6"/></g>
<g fill="none" stroke="#45453f" stroke-width="1.6" stroke-linejoin="round" opacity="1"><use href="#cb4" x="803.9" y="1060.0"/><use href="#cb4" x="898.8" y="1060.0"/><use href="#cb4" x="992.4" y="1060.0"/><use href="#cb4" x="1086.0" y="1060.0"/><use href="#cb4" x="1179.8" y="1060.0"/><use href="#cb4" x="1276.0" y="1060.0"/><use href="#cb4" x="1369.7" y="1060.0"/><use href="#cb4" x="1465.8" y="1060.0"/><use href="#cb4" x="1559.5" y="1060.0"/></g>
  <g stroke="#fbfbf9" stroke-width="3.5">
   <path d="M829,1256 L862,1256"/><path d="M924,1256 L957,1256"/><path d="M1018,1256 L1051,1256"/><path d="M1112,1256 L1145,1256"/><path d="M1206,1256 L1239,1256"/><path d="M1302,1256 L1335,1256"/><path d="M1396,1256 L1429,1256"/>
  </g>
 </g>
 <path d="M815,1320.5 L1590,1320.5" stroke="#8e8e8a" stroke-width="2"/>
 <!-- arrows -->
 <g fill="none" stroke="#f3f3f1" stroke-width="1.3">
  <path id="ua4" d="M-2,16 L-2,-2 L-7,-2 L0,-16 L7,-2 L2,-2 L2,16 Z" transform="translate(1241.5,1294)"/>
  <use href="#ua4" x="93.5"/>
  <use href="#ua4" x="187.5"/>
  <use href="#ua4" x="281"/>
 </g>
 <g fill="none" stroke="#8c8c88" stroke-width="0.8">
  <use href="#ua4" x="0.8" y="0.8"/>
  <use href="#ua4" x="94.3" y="0.8"/>
  <use href="#ua4" x="188.3" y="0.8"/>
  <use href="#ua4" x="281.8" y="0.8"/>
 </g>
 <!-- clasp wing -->
 <path d="M1423.2,1139.5 Q1500,1128 1580,1117 L1580,1262 Q1530,1255 1487,1257 Q1450,1260 1425,1265.4 Z" fill="#bebeb8" stroke="#7e7e7a" stroke-width="1.5"/>
 <path d="M1420,1141 L1423.2,1139.5 L1425,1265.4 L1421,1266 Z" fill="#8e8e8a"/>
 <path d="M1424,1144 Q1500,1131 1580,1121" fill="none" stroke="#f0f0ee" stroke-width="1.5"/>
 <path d="M1470.7,1162 L1476.8,1162 L1476.8,1234.5 L1470.7,1234.5 Z" fill="#6a6a64"/>
 <path d="M1426,1164 L1470,1161 M1426,1236 L1470,1236 M1508,1159 L1580,1156 M1510,1234 L1580,1232" stroke="#a4a4a0" stroke-width="1"/>
 <!-- pin + arrow -->
<path d="M1318.1,1016.0 L1312.6,1016.0 L1312.6,1056.0 L1317.9,1056.0 Z" fill="#f2f2f0" stroke="#767674" stroke-width="0.9"/><path d="M1312.4,1016.0 L1306.9,1016.0 L1307.1,1056.0 L1312.4,1056.0 Z" fill="#f2f2f0" stroke="#767674" stroke-width="0.9"/><path d="M1318.2,1014.5 L1306.8,1014.5 L1306.8,1021.5 L1318.2,1021.5 Z" fill="#d8d8d6" stroke="#6a6a68" stroke-width="1"/><circle cx="1315.4" cy="1018.4" r="1.8" fill="#262626"/>
 <defs><linearGradient id="oa" x1="0" y1="0" x2="0" y2="1"><stop offset="0" stop-color="#e65a2a" stop-opacity="0.15"/><stop offset="0.6" stop-color="#e65a2a"/></linearGradient></defs>
 <path d="M1333,1017.4 L1337,1017.4 L1337,1036 L1341.4,1036 L1335,1050.7 L1328.6,1036 L1333,1036 Z" fill="url(#oa)"/>
 <!-- magnifier -->
 <clipPath id="m4"><circle cx="1063.2" cy="960.7" r="79"/></clipPath>
 <g clip-path="url(#m4)">
  <rect x="980" y="880" width="170" height="170" fill="#fff"/>
  <rect x="980" y="949" width="170" height="8" fill="#e2e2e0"/>
  <rect x="980" y="956.8" width="170" height="90" fill="#b4b4ae"/>
  <path d="M1018,956.8 L1041,1019 L1080,1019 L1089,1040 L1040,1040 Z" fill="#f4f4f2"/>
  <path d="M1017,956.8 L1025,956.8 L1047,1016 L1042,1022 Z" fill="#f4f4f2"/>
  <path d="M1025,956.8 L1047,1018 L1084.8,1018 L1094,1040" fill="none" stroke="#6a6a65" stroke-width="4" stroke-linejoin="round"/>
  <path d="M1121,953.4 L1136,993.8" stroke="#6a6a65" stroke-width="4"/>
  <path d="M1115,956.8 L1128,993.8" stroke="#f4f4f2" stroke-width="3"/>
<path d="M1066.8,914.0 L1061.4,914.0 L1061.4,953.0 L1066.8,953.0 Z" fill="#f2f2f0" stroke="#767674" stroke-width="0.9"/><path d="M1061.2,914.0 L1055.8,914.0 L1055.8,953.0 L1061.2,953.0 Z" fill="#f2f2f0" stroke="#767674" stroke-width="0.9"/><path d="M1066.9,912.5 L1055.7,912.5 L1055.7,919.5 L1066.9,919.5 Z" fill="#d8d8d6" stroke="#6a6a68" stroke-width="1"/><circle cx="1064.1" cy="916.4" r="1.7" fill="#262626"/>
 </g>
 <circle cx="1063.2" cy="960.7" r="79" fill="none" stroke="#d9643f" stroke-width="2"/>
</g>
<!--P4E-->


<!-- boxes -->
<g fill="none" stroke="#a2a2a2" stroke-width="2.6">
<rect x="36.7" y="145.6" width="753.5" height="532.4" rx="28"/>
<rect x="823.6" y="145.6" width="753.8" height="532.4" rx="28"/>
<rect x="36.7" y="863.3" width="753.5" height="532.7" rx="28"/>
<rect x="823.6" y="863.3" width="753.8" height="532.7" rx="28"/>
</g>
<!-- numbers -->
<g font-size="77" fill="#e2582b">
<path d="M77,165.8 L82.3,165.8 L82.3,218.3 L76,218.3 L76,177.5 L62.8,185 L62.3,179.5 Z"/>
<text x="845.8" y="219" font-size="75.5" textLength="44.6" lengthAdjust="spacingAndGlyphs">2</text>
<text x="57" y="937">3</text>
<text x="842.5" y="937">4</text>
</g>
<!-- captions -->
<g fill="#0a0a0a" stroke="#0a0a0a" stroke-width="0.25">
<text x="43.8" y="725.7" font-size="43.5" textLength="699.2" lengthAdjust="spacingAndGlyphs">Turn the screw and follow the arrow</text>
<text x="45.5" y="776.4" font-size="42.5" textLength="482.4" lengthAdjust="spacingAndGlyphs">direction to push the pin.</text>
<text x="41.1" y="829.7" font-size="44" textLength="332.4" lengthAdjust="spacingAndGlyphs">Repeat this step.</text>
<text x="826.8" y="731.9" font-size="42.5" textLength="751.6" lengthAdjust="spacingAndGlyphs">Push out the pin to remove metal links</text>
<text x="831.5" y="778.2" font-size="42" textLength="287.8" lengthAdjust="spacingAndGlyphs">you don't need</text>
<text x="63.6" y="1448.0" font-size="42.5" textLength="655.8" lengthAdjust="spacingAndGlyphs">Insert the pins into the links in the</text>
<text x="84.6" y="1494.5" font-size="41.5" textLength="628.4" lengthAdjust="spacingAndGlyphs">opposite direction of the arrows.</text>
<text x="841.9" y="1440.5" font-size="44" textLength="726.4" lengthAdjust="spacingAndGlyphs">Press the pin bertically by the bottom</text>
<text x="839.1" y="1496.5" font-size="43" textLength="731.6" lengthAdjust="spacingAndGlyphs">end of the resizing tool on a hard and</text>
<text x="844.9" y="1552.0" font-size="43" textLength="227.6" lengthAdjust="spacingAndGlyphs">flat surface.</text>
</g>
</svg>
</body></html>
